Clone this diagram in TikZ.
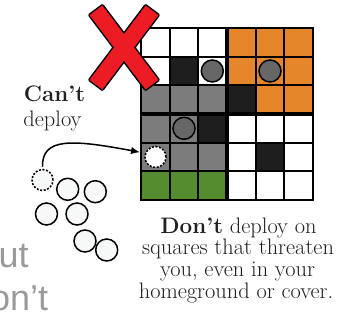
\documentclass[tikz,border=0pt]{standalone}
\usepackage{fontspec}
\newfontfamily\graysans{Liberation Sans}
\usetikzlibrary{arrows.meta}
\definecolor{xred}{HTML}{ED1C24}
\definecolor{orng}{HTML}{E6862B}
\definecolor{grn}{HTML}{548C2F}
\definecolor{gry}{HTML}{7C7C7C}
\definecolor{blk}{HTML}{1E1E1E}
\definecolor{piece}{HTML}{676767}
\definecolor{pale}{HTML}{F7F8F8}
\definecolor{txtgray}{HTML}{9A9A9A}
\definecolor{txt}{HTML}{231F20}
\begin{document}
\begin{tikzpicture}[x=1pt,y=-1pt,
  gridline/.style={line width=2pt,black},
  quadline/.style={line width=4pt,black},
  pc/.style={circle,draw=black,line width=1.5pt,fill=piece,minimum size=22pt,inner sep=0pt},
  spare/.style={circle,draw=black,line width=1.5pt,fill=pale,minimum size=22pt,inner sep=0pt},
  ghost/.style={circle,draw=black,line width=1.5pt,dash pattern=on 2pt off 1.6pt,minimum size=21pt,inner sep=0pt},
  lbl/.style={inner sep=0pt,anchor=base,text=txt,font=\fontsize{22.4}{26}\selectfont},
  big/.style={inner sep=0pt,anchor=base west,text=txtgray,font=\graysans\fontsize{36}{40}\selectfont}
]
\clip (0,0) rectangle (352,328);
\def\s{28.667}
% board background
\fill[white] (141,28) rectangle (313,200);
\foreach \c/\r/\col in {4/1/orng,5/1/orng,6/1/orng,
  2/2/blk,4/2/orng,5/2/orng,6/2/orng,
  1/3/gry,2/3/gry,3/3/gry,4/3/blk,5/3/orng,6/3/orng,
  1/4/gry,2/4/gry,3/4/blk,
  1/5/gry,2/5/gry,3/5/gry,5/5/blk,
  1/6/grn,2/6/grn,3/6/grn}
  \fill[\col] ({141+(\c-1)*\s},{28+(\r-1)*\s}) rectangle ++(\s,\s);
\foreach \i in {1,2,4,5}{
  \draw[gridline] ({141+\i*\s},28) -- ({141+\i*\s},200);
  \draw[gridline] (141,{28+\i*\s}) -- (313,{28+\i*\s});
}
\draw[quadline] (227,28) -- (227,200);
\draw[quadline] (141,114) -- (313,114);
\draw[gridline] (141,28) rectangle (313,200);
% pieces on the board
\node[pc] (p1) at (212.3,71) {};
\node[pc] (p2) at (270,71) {};
\node[pc] (p3) at (184,128.3) {};
\node[ghost,fill=white] (t) at (155.5,157) {};
% red X
\draw[line width=3pt,black,line join=round]
  (145.6,89.5) -- (158.4,79.9) -- (102.4,5.5) -- (89.6,15.1) -- cycle
  (102.4,89.5) -- (89.6,79.9) -- (145.6,5.5) -- (158.4,15.1) -- cycle;
\fill[xred] (145.6,89.5) -- (158.4,79.9) -- (102.4,5.5) -- (89.6,15.1) -- cycle;
\fill[xred] (102.4,89.5) -- (89.6,79.9) -- (145.6,5.5) -- (158.4,15.1) -- cycle;
% spare pieces
\node[ghost,fill=pale] (d0) at (42.5,180) {};
\node[spare] (c1) at (67.7,189.3) {};
\node[spare] (c2) at (95.3,191.7) {};
\node[spare] (c3) at (46.5,214) {};
\node[spare] (c4) at (77,214) {};
\node[spare] (c5) at (85,241) {};
\node[spare] (c6) at (106.7,250) {};
% arrow
\draw[line width=1.5pt,-{Latex[length=9pt,width=7.5pt]},shorten <=2pt,shorten >=5pt]
  (d0.north) .. controls (42,138) and (70,139) .. (t.160);
% labels
\node[lbl] (cant) at (54.5,102) {\bfseries Can’t};
\node[lbl] (dep) at (52.5,127) {deploy};
\node[lbl] (b1) at (238.5,233) {\bfseries Don’t\mdseries\ deploy on};
\node[lbl] (b2) at (238,254.5) {squares that threaten};
\node[lbl] (b3) at (237.5,276.5) {you, even in your};
\node[lbl] (b4) at (236,298) {homeground or cover.};
% cut-off grey words
\node[big] (g1) at (-1.5,267.5) {ut};
\node[big] (g2) at (-10,310) {on’t};
\end{tikzpicture}
\end{document}
